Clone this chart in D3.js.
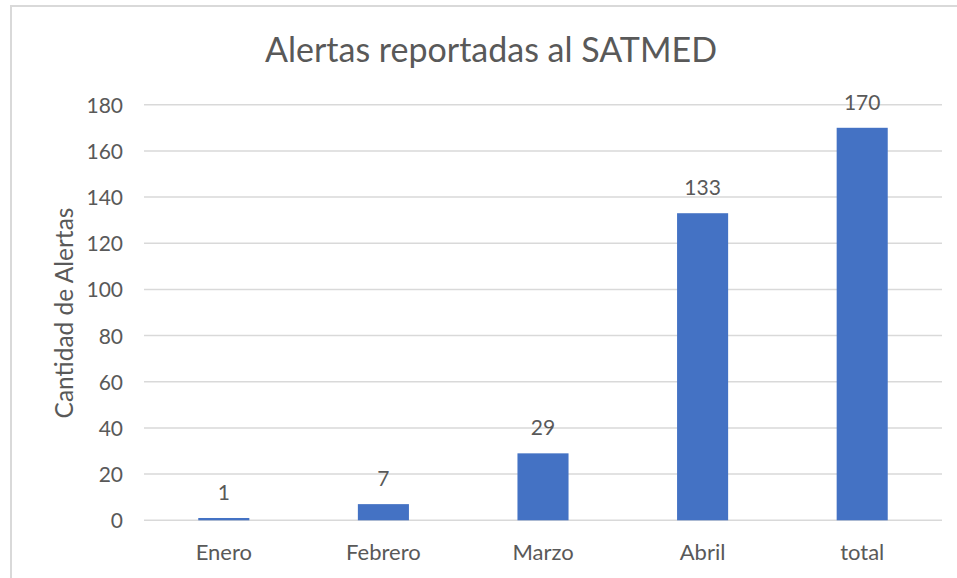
<!DOCTYPE html>
<html>
<head>
<meta charset="utf-8">
<script src="https://cdn.jsdelivr.net/npm/d3@7"></script>
<style>
  html, body { margin: 0; padding: 0; background: #ffffff; }
  svg { display: block; }
  text { font-family: Lato, "Open Sans", sans-serif; fill: #595959; }
</style>
</head>
<body>
<svg id="chart" width="957" height="578"></svg>
<script>
const categories = ["Enero", "Febrero", "Marzo", "Abril", "total"];
const values = [1, 7, 29, 133, 170];
const yTicks = [0, 20, 40, 60, 80, 100, 120, 140, 160, 180];
const titleText = "Alertas reportadas al SATMED";
const yLabelText = "Cantidad de Alertas";

const svg = d3.select("#chart");
const W = 957, H = 578;

// outer chart frame (cropped at right and bottom)
svg.append("rect")
  .attr("x", 11).attr("y", 6)
  .attr("width", W + 20).attr("height", H + 20)
  .attr("fill", "#ffffff")
  .attr("stroke", "#d9d9d9").attr("stroke-width", 2);

const plot = { left: 144, right: 942, top: 104.7, bottom: 520.3 };

const x = d3.scaleBand()
  .domain(categories)
  .range([plot.left, plot.right])
  .paddingInner(0.68)
  .paddingOuter(0.34);

const y = d3.scaleLinear()
  .domain([0, 180])
  .range([plot.bottom, plot.top]);

// gridlines
svg.append("g")
  .selectAll("line")
  .data(yTicks)
  .join("line")
  .attr("x1", plot.left).attr("x2", plot.right)
  .attr("y1", d => y(d)).attr("y2", d => y(d))
  .attr("stroke", "#d9d9d9").attr("stroke-width", 1.5);

// y axis tick labels
const yAxis = d3.axisLeft(y).tickValues(yTicks).tickSize(0).tickPadding(0);
const gy = svg.append("g")
  .attr("transform", `translate(${plot.left - 21},0)`)
  .call(yAxis);
gy.select(".domain").remove();
gy.selectAll("text")
  .attr("font-size", 21)
  .attr("font-family", "Lato, sans-serif")
  .attr("fill", "#595959")
  .attr("dy", "0.36em");

// bars
svg.append("g")
  .selectAll("rect")
  .data(values)
  .join("rect")
  .attr("x", (d, i) => x(categories[i]))
  .attr("width", x.bandwidth())
  .attr("y", d => y(d))
  .attr("height", d => y(0) - y(d))
  .attr("fill", "#4472c4");

// data labels
svg.append("g")
  .selectAll("text")
  .data(values)
  .join("text")
  .attr("x", (d, i) => x(categories[i]) + x.bandwidth() / 2)
  .attr("y", d => y(d) - 18)
  .attr("text-anchor", "middle")
  .attr("font-size", 21)
  .text(d => d);

// x axis labels
const xAxis = d3.axisBottom(x).tickSize(0).tickPadding(0);
const gx = svg.append("g")
  .attr("transform", `translate(0,${plot.bottom + 24})`)
  .call(xAxis);
gx.select(".domain").remove();
gx.selectAll("text")
  .attr("font-size", 22)
  .attr("font-family", "Lato, sans-serif")
  .attr("fill", "#595959")
  .attr("dy", "0.71em");

// title
svg.append("text")
  .attr("x", 491).attr("y", 62)
  .attr("text-anchor", "middle")
  .attr("font-size", 34)
  .text(titleText);

// y axis label
svg.append("text")
  .attr("transform", `translate(73,${313}) rotate(-90)`)
  .attr("text-anchor", "middle")
  .attr("font-size", 24.5)
  .text(yLabelText);
</script>
</body>
</html>
